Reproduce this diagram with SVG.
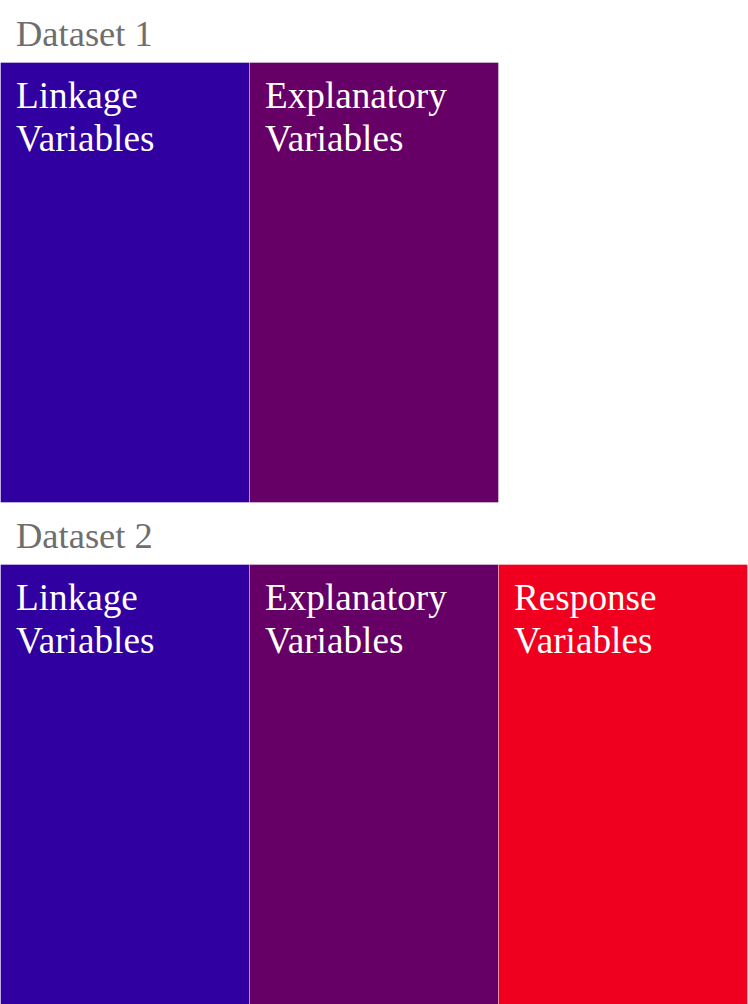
<svg xmlns="http://www.w3.org/2000/svg" width="748" height="1004" viewBox="0 0 748 1004">
  <style>
    .title { font-family: "Liberation Serif", "Times New Roman", serif; font-size: 36.5px; fill: #6e6e6e; }
    .label { font-family: "Liberation Serif", "Times New Roman", serif; font-size: 37.2px; fill: #ffffff; }
    .box { stroke: #ffffff; stroke-opacity: 0.35; stroke-width: 1; }
    .linkage { fill: #3000a0; }
    .explanatory { fill: #660066; }
    .response { fill: #f0001e; }
  </style>
  <rect width="748" height="1004" fill="#ffffff"/>

  <!-- Dataset 1 -->
  <g id="dataset1">
    <text class="title" x="16" y="46">Dataset 1</text>
    <g id="d1-linkage">
      <rect class="box linkage" x="0.5" y="62.5" width="249" height="440"/>
      <text class="label" x="16" y="108">Linkage</text>
      <text class="label" x="16" y="151">Variables</text>
    </g>
    <g id="d1-explanatory">
      <rect class="box explanatory" x="249.5" y="62.5" width="249" height="440"/>
      <text class="label" x="265" y="108">Explanatory</text>
      <text class="label" x="265" y="151">Variables</text>
    </g>
  </g>

  <!-- Dataset 2 -->
  <g id="dataset2">
    <text class="title" x="16" y="548">Dataset 2</text>
    <g id="d2-linkage">
      <rect class="box linkage" x="0.5" y="564.5" width="249" height="440"/>
      <text class="label" x="16" y="610">Linkage</text>
      <text class="label" x="16" y="653">Variables</text>
    </g>
    <g id="d2-explanatory">
      <rect class="box explanatory" x="249.5" y="564.5" width="249" height="440"/>
      <text class="label" x="265" y="610">Explanatory</text>
      <text class="label" x="265" y="653">Variables</text>
    </g>
    <g id="d2-response">
      <rect class="box response" x="498.5" y="564.5" width="249" height="440"/>
      <text class="label" x="514" y="610">Response</text>
      <text class="label" x="514" y="653">Variables</text>
    </g>
  </g>

  <g id="connectors"/>
</svg>
